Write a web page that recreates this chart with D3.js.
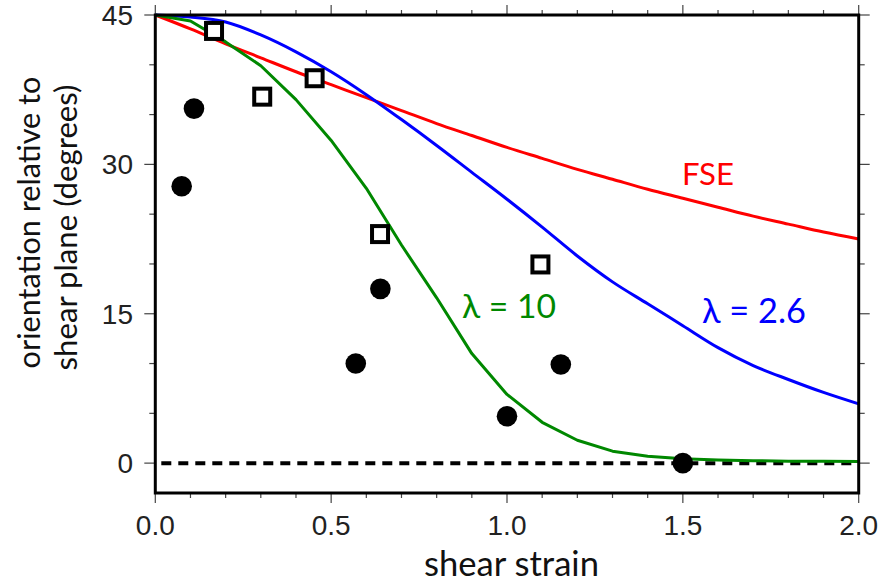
<!DOCTYPE html>
<html><head><meta charset="utf-8">
<script src="https://cdn.jsdelivr.net/npm/d3@7"></script>
<style>html,body{margin:0;padding:0;background:#fff;}</style>
</head><body>
<svg id="chart" width="882" height="585"></svg>
<script>
// ---- data ----
const strain = [0,0.1,0.2,0.3,0.4,0.5,0.6,0.7,0.8,0.9,1.0,1.1,1.2,1.3,1.4,1.5,1.6,1.7,1.8,1.9,2.0];
const fse    = [45,43.6,42.1,40.7,39.3,38.0,36.7,35.4,34.1,32.9,31.7,30.6,29.5,28.5,27.5,26.6,25.7,24.8,24.0,23.2,22.5];
const lam26  = [45,44.8,44.3,43.0,41.3,39.3,37.0,34.5,31.9,29.2,26.5,23.7,20.8,18.2,16.0,13.8,11.6,9.8,8.4,7.1,5.95];
const lam10  = [45,44.4,42.3,39.9,36.5,32.4,27.6,21.9,16.6,11.0,6.9,4.1,2.3,1.2,0.7,0.45,0.32,0.25,0.2,0.18,0.16];
const circleX = [0.075,0.11,0.57,0.64,1.0,1.153,1.5];
const circleY = [27.8,35.6,10.0,17.5,4.7,9.9,0.0];
const squareX = [0.167,0.304,0.453,0.639,1.095];
const squareY = [43.4,36.8,38.65,23.0,19.95];
const xTicks = [0,0.5,1.0,1.5,2.0];
const xTickLabels = ["0.0","0.5","1.0","1.5","2.0"];
const yTicks = [0,15,30,45];
const yTickLabels = ["0","15","30","45"];
const xMinor = d3.range(0,21).map(i=>i/10);
const yMinor = [0,5,10,15,20,25,30,35,40,45];

// ---- layout ----
const svg = d3.select("#chart");
const L=155.3, R=858.7, T=15, B=493;
const x = d3.scaleLinear().domain([0,2]).range([L,R]);
const y = d3.scaleLinear().domain([-3,45]).range([B,T]);

const tickCol="#444";
const g = svg.append("g");
g.selectAll(".bm").data(xMinor).join("line")
 .attr("x1",d=>x(d)).attr("x2",d=>x(d)).attr("y1",B)
 .attr("y2",d=>B+(xTicks.some(t=>Math.abs(t-d)<1e-9)?10:5))
 .attr("stroke",tickCol).attr("stroke-width",1.2);
g.selectAll(".tm").data(xMinor).join("line")
 .attr("x1",d=>x(d)).attr("x2",d=>x(d)).attr("y1",T)
 .attr("y2",d=>T-(xTicks.some(t=>Math.abs(t-d)<1e-9)?10:5))
 .attr("stroke",tickCol).attr("stroke-width",1.2);
g.selectAll(".lm").data(yMinor).join("line")
 .attr("y1",d=>y(d)).attr("y2",d=>y(d)).attr("x1",L)
 .attr("x2",d=>L-(yTicks.includes(d)?11:6))
 .attr("stroke",tickCol).attr("stroke-width",1.2);
g.selectAll(".rm").data(yMinor).join("line")
 .attr("y1",d=>y(d)).attr("y2",d=>y(d)).attr("x1",R)
 .attr("x2",d=>R+(yTicks.includes(d)?11:6))
 .attr("stroke",tickCol).attr("stroke-width",1.2);

// tick labels
svg.append("g").selectAll("text").data(xTicks).join("text")
 .attr("x",d=>x(d)).attr("y",535).attr("text-anchor","middle")
 .attr("font-family","Liberation Sans, Arial, sans-serif").attr("font-size",28).attr("fill","#222")
 .text((d,i)=>xTickLabels[i]);
svg.append("g").selectAll("text").data(yTicks).join("text")
 .attr("x",133).attr("y",d=>y(d)).attr("dy","0.36em").attr("text-anchor","end")
 .attr("font-family","Liberation Sans, Arial, sans-serif").attr("font-size",28).attr("fill","#222")
 .text((d,i)=>yTickLabels[i]);

function fit(sel, w){
  const n = sel.node(); const cur = parseFloat(sel.attr("font-size"));
  const len = n.getComputedTextLength();
  sel.attr("font-size", cur*w/len);
}
const tf = "Lato, Open Sans, sans-serif";
fit(svg.append("text").attr("x",511.5).attr("y",576).attr("text-anchor","middle")
 .attr("font-family",tf).attr("font-size",30).attr("fill","#111").text("shear strain"),175);
fit(svg.append("text").attr("transform","translate(40,222.5) rotate(-90)").attr("text-anchor","middle")
 .attr("font-family",tf).attr("font-size",29).attr("fill","#111").text("orientation relative to"),292);
fit(svg.append("text").attr("transform","translate(77,227.5) rotate(-90)").attr("text-anchor","middle")
 .attr("font-family",tf).attr("font-size",29).attr("fill","#111").text("shear plane (degrees)"),286);

// zero dashed line
svg.append("line").attr("x1",x(0)).attr("x2",x(2)).attr("y1",y(0)).attr("y2",y(0))
 .attr("stroke","#000").attr("stroke-width",4).attr("stroke-dasharray","10,7").attr("stroke-dashoffset",-6);

// curves
const smooth = d3.line().x((d,i)=>x(strain[i])).y(d=>y(d)).curve(d3.curveMonotoneX);
const straight = d3.line().x((d,i)=>x(strain[i])).y(d=>y(d));
[[fse,"#ff0000",smooth],[lam26,"#0000ff",smooth],[lam10,"#008800",straight]].forEach(([s,c,ln])=>{
  svg.append("path").attr("d",ln(s)).attr("fill","none").attr("stroke",c).attr("stroke-width",3)
   .attr("stroke-linejoin","round");
});

// frame
svg.append("rect").attr("x",L).attr("y",T).attr("width",R-L).attr("height",B-T)
 .attr("fill","none").attr("stroke","#000").attr("stroke-width",3);

// markers
svg.append("g").selectAll("rect").data(squareX).join("rect")
 .attr("x",(d)=>x(d)-8).attr("y",(d,i)=>y(squareY[i])-8).attr("width",16).attr("height",16)
 .attr("fill","#fff").attr("stroke","#000").attr("stroke-width",4);
svg.append("g").selectAll("circle").data(circleX).join("circle")
 .attr("cx",d=>x(d)).attr("cy",(d,i)=>y(circleY[i])).attr("r",10.3).attr("fill","#000");

// annotations
fit(svg.append("text").attr("x",682).attr("y",185).attr("font-family",tf).attr("font-size",30)
 .attr("fill","#ff0000").text("FSE"),52);
fit(svg.append("text").attr("x",702).attr("y",323).attr("font-family",tf).attr("font-size",30)
 .attr("fill","#0000ff").text("λ = 2.6"),104);
fit(svg.append("text").attr("x",462).attr("y",318).attr("font-family",tf).attr("font-size",30)
 .attr("fill","#008800").text("λ = 10"),94);
</script>
</body></html>
